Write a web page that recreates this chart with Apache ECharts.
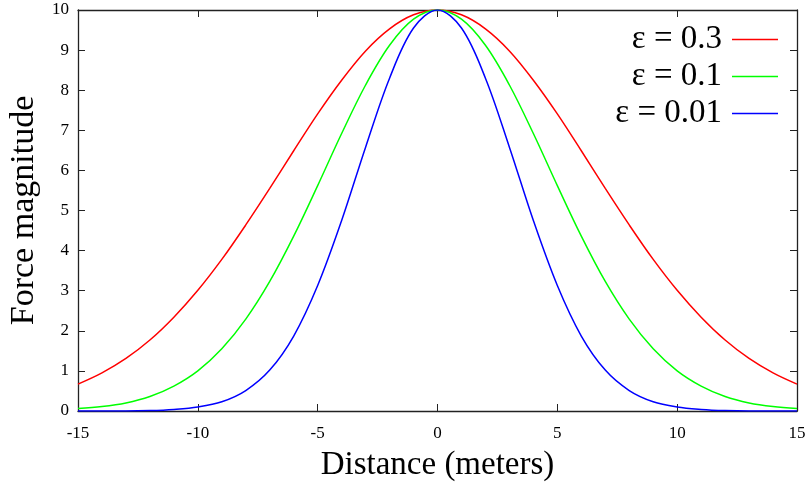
<!DOCTYPE html>
<html>
<head>
<meta charset="utf-8">
<script src="https://cdn.jsdelivr.net/npm/echarts@6/dist/echarts.min.js"></script>
<style>
  html, body { margin: 0; padding: 0; background: #fff; }
  #chart { width: 806px; height: 490px; }
</style>
</head>
<body>
<div id="chart"></div>
<script>
// Distance samples (meters)
const distance = [-15,-14,-13,-12,-11,-10,-9,-8,-7,-6,-5,-4,-3,-2,-1,0,1,2,3,4,5,6,7,8,9,10,11,12,13,14,15];

// Force magnitude for each epsilon
const force03 = [0.67,0.95,1.31,1.77,2.34,3.01,3.78,4.64,5.55,6.49,7.41,8.25,8.98,9.53,9.88,10,9.88,9.53,8.98,8.25,7.41,6.49,5.55,4.64,3.78,3.01,2.34,1.77,1.31,0.95,0.67];
const force01 = [0.06,0.11,0.20,0.36,0.62,1.00,1.55,2.29,3.23,4.36,5.62,6.92,8.13,9.12,9.77,10,9.77,9.12,8.13,6.92,5.62,4.36,3.23,2.29,1.55,1.00,0.62,0.36,0.20,0.11,0.06];
const force001 = [0,0,0,0.01,0.04,0.10,0.23,0.51,1.02,1.87,3.13,4.75,6.58,8.30,9.55,10,9.55,8.30,6.58,4.75,3.13,1.87,1.02,0.51,0.23,0.10,0.04,0.01,0,0,0];

const seriesNames = ['ε = 0.3', 'ε = 0.1', 'ε = 0.01'];
const seriesColors = ['#ff0000', '#00ff00', '#0000ff'];
const seriesValues = [force03, force01, force001];

const xTicks = [-15, 15, 5];   // min, max, step
const yTicks = [0, 10, 1];

const serif = 'Liberation Serif, Times New Roman, serif';
const axisColor = '#222';

const chart = echarts.init(document.getElementById('chart'), null, { renderer: 'canvas' });

const commonTick = { show: true, inside: true, length: 7, lineStyle: { color: axisColor, width: 1 } };

// One legend block per series so each entry is right-aligned: text, then a line sample
const legends = seriesNames.map((name, i) => ({
  data: [{ name: name, icon: 'rect', itemStyle: { color: seriesColors[i] } }],
  right: 23,
  top: 18 + i * 37,
  align: 'right',
  itemWidth: 46,
  itemHeight: 1.6,
  itemGap: 10,
  textStyle: { fontFamily: serif, fontSize: 33, color: '#000', padding: [0, 5, 0, 0] },
  selectedMode: false
}));

chart.setOption({
  animation: false,
  backgroundColor: '#fff',
  grid: { left: 78, right: 9, top: 10, bottom: 79, containLabel: false, outerBoundsMode: 'none' },
  legend: legends,
  xAxis: [{
    type: 'value',
    min: xTicks[0], max: xTicks[1], interval: xTicks[2],
    name: 'Distance (meters)',
    nameLocation: 'middle',
    nameGap: 38,
    nameTextStyle: { fontFamily: serif, fontSize: 33, color: '#000' },
    axisLine: { show: true, onZero: false, lineStyle: { color: axisColor, width: 1.3 } },
    axisTick: commonTick,
    axisLabel: { fontFamily: serif, fontSize: 17, color: '#000', margin: 14 },
    splitLine: { show: false }
  }, {
    type: 'value', position: 'top',
    min: xTicks[0], max: xTicks[1], interval: xTicks[2],
    axisLine: { show: true, onZero: false, lineStyle: { color: axisColor, width: 1.3 } },
    axisTick: commonTick,
    axisLabel: { show: false },
    splitLine: { show: false }
  }],
  yAxis: [{
    type: 'value',
    min: yTicks[0], max: yTicks[1], interval: yTicks[2],
    name: 'Force magnitude',
    nameLocation: 'middle',
    nameGap: 37,
    nameTextStyle: { fontFamily: serif, fontSize: 34, color: '#000' },
    axisLine: { show: true, onZero: false, lineStyle: { color: axisColor, width: 1.3 } },
    axisTick: commonTick,
    axisLabel: { fontFamily: serif, fontSize: 17, color: '#000', margin: 9 },
    splitLine: { show: false }
  }, {
    type: 'value', position: 'right',
    min: yTicks[0], max: yTicks[1], interval: yTicks[2],
    axisLine: { show: true, onZero: false, lineStyle: { color: axisColor, width: 1.3 } },
    axisTick: commonTick,
    axisLabel: { show: false },
    splitLine: { show: false }
  }],
  series: seriesNames.map((name, i) => ({
    name: name,
    type: 'line',
    xAxisIndex: 0,
    yAxisIndex: 0,
    smooth: 0.35,
    symbol: 'none',
    lineStyle: { color: seriesColors[i], width: 1.5 },
    itemStyle: { color: seriesColors[i] },
    data: distance.map((d, k) => [d, seriesValues[i][k]])
  }))
});
</script>
</body>
</html>
